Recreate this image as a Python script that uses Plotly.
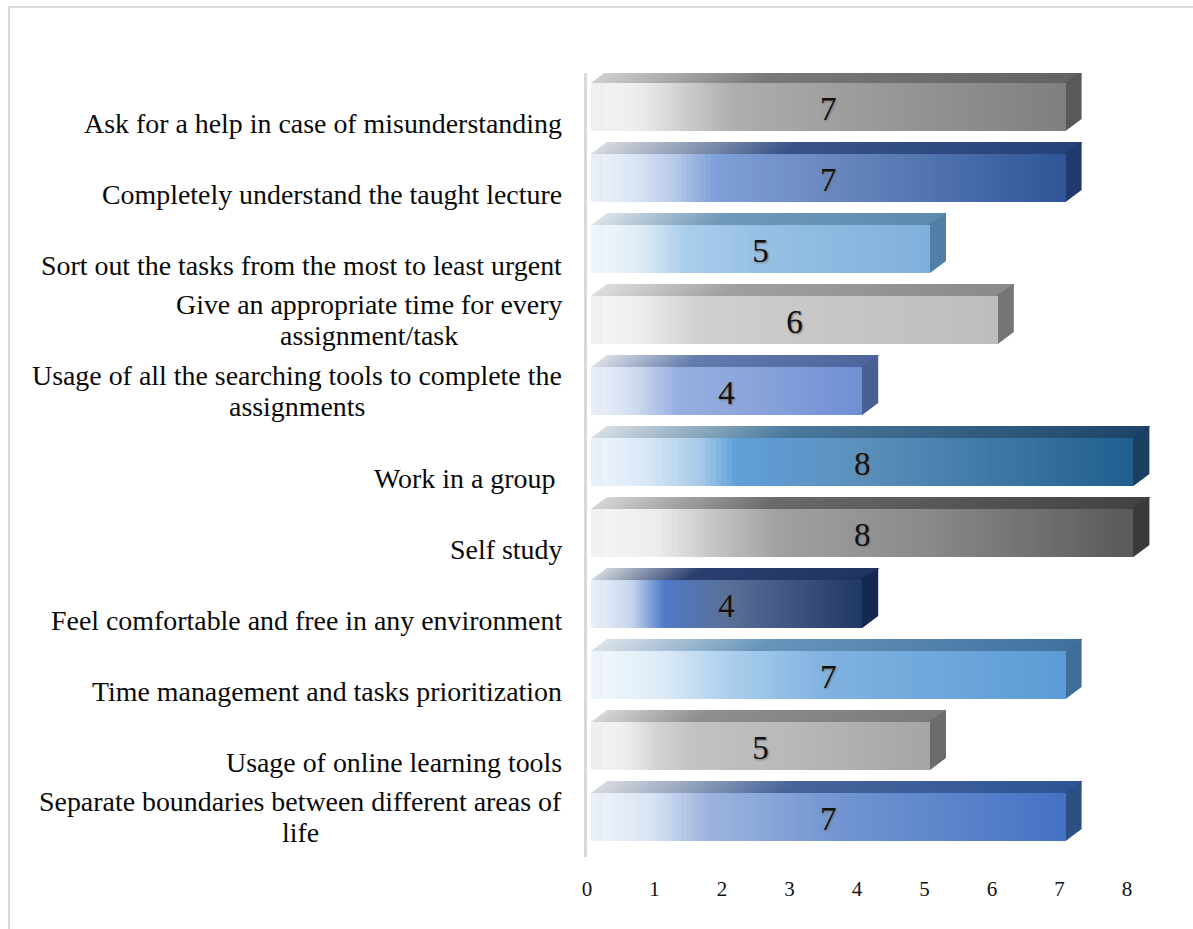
import plotly.graph_objects as go

categories = [
    "Ask for a help in case of misunderstanding",
    "Completely understand the taught lecture",
    "Sort out the tasks from the most to least urgent",
    "Give an appropriate time for every<br>assignment/task",
    "Usage of all the searching tools to complete the<br>assignments",
    "Work in a group\u00a0",
    "Self study",
    "Feel comfortable and free in any environment",
    "Time management and tasks prioritization",
    "Usage of online learning tools",
    "Separate boundaries between different areas of<br>life",
]
values = [7, 7, 5, 6, 4, 8, 8, 4, 7, 5, 7]
tick_values = [0, 1, 2, 3, 4, 5, 6, 7, 8]

# colour stops along each bar: (fraction, colour)
front_stops = [
    [(0, "#f4f4f4"), (.1, "#ededed"), (.2, "#cccccc"), (.3, "#aeaeae"), (.5, "#a0a0a0"), (1, "#7f7f7f")],
    [(0, "#f0f4fb"), (.1, "#d8e3f3"), (.18, "#b4c8e9"), (.26, "#7f9fd8"), (.5, "#6a89c0"), (1, "#2f5597")],
    [(0, "#f4f9fd"), (.15, "#dcebf7"), (.28, "#a9cdec"), (.5, "#97c0e4"), (1, "#7fb0dc")],
    [(0, "#f6f6f6"), (.12, "#eeeeee"), (.26, "#d0d0d0"), (.6, "#c6c6c6"), (1, "#bdbdbd")],
    [(0, "#f0f4fb"), (.15, "#d3def2"), (.32, "#97aee0"), (.6, "#8aa4da"), (1, "#6f8fd6")],
    [(0, "#f0f6fb"), (.1, "#d9e8f6"), (.2, "#a8cbe9"), (.27, "#5f9fd8"), (.5, "#5c8fbb"), (1, "#1f5f8f")],
    [(0, "#f5f5f5"), (.12, "#ededed"), (.24, "#c0c0c0"), (.35, "#a0a0a0"), (.6, "#8c8c8c"), (1, "#595959")],
    [(0, "#f0f4fb"), (.15, "#c6d5ee"), (.27, "#4f79c8"), (.5, "#5a7099"), (1, "#203864")],
    [(0, "#f4f8fd"), (.15, "#dcebf7"), (.3, "#a9cdec"), (.5, "#7fb2e0"), (1, "#5b9bd5")],
    [(0, "#f4f4f4"), (.1, "#eeeeee"), (.2, "#d2d2d2"), (.3, "#c2c2c2"), (.6, "#b8b8b8"), (1, "#a5a5a5")],
    [(0, "#f0f4fb"), (.13, "#d8e3f3"), (.24, "#9fb5e0"), (.5, "#7497d2"), (1, "#4472c4")],
]
top_stops = [
    [(0, "#cfcfcf"), (.35, "#797979"), (1, "#636363")],
    [(0, "#d6d9de"), (.4, "#3a5488"), (1, "#26427a")],
    [(0, "#dbe2e8"), (.35, "#7099ba"), (1, "#5b8bb0")],
    [(0, "#dddddd"), (.32, "#a0a0a0"), (1, "#8a8a8a")],
    [(0, "#d9dde3"), (.35, "#647cae"), (1, "#4c669c")],
    [(0, "#d5dde3"), (.35, "#4a7a9e"), (1, "#1d4468")],
    [(0, "#d4d4d4"), (.32, "#6a6a6a"), (1, "#424242")],
    [(0, "#d0d5dc"), (.35, "#2b4070"), (1, "#1e3461")],
    [(0, "#dbe2e8"), (.35, "#6794bb"), (1, "#3f729f")],
    [(0, "#d6d6d6"), (.3, "#8f8f8f"), (1, "#7a7a7a")],
    [(0, "#d6d9de"), (.4, "#476499"), (1, "#2f5597")],
]
side_colors = ["#595959", "#203a70", "#4f7fa6", "#757575", "#4a5f94", "#1a3f60",
               "#3a3a3a", "#142850", "#3d6f9a", "#6c6c6c", "#2e4f84"]
# horizontal centre (px) of wrapped second lines
second_line_centre = {3: 369, 4: 297, 10: 300}


def blend(stops, t):
    for (a, ca), (b, cb) in zip(stops, stops[1:]):
        if t <= b:
            f = (t - a) / (b - a)
            pa = [int(ca[i:i + 2], 16) for i in (1, 3, 5)]
            pb = [int(cb[i:i + 2], 16) for i in (1, 3, 5)]
            return "rgb(%d,%d,%d)" % tuple(round(p + (q - p) * f) for p, q in zip(pa, pb))
    return stops[-1][1]


# pixel layout of the plot area
W, H = 1193, 929
L, T, PW, PH = 587, 73, 584, 784
UNIT = 67.8
TICK_UNIT = 67.5
ROW = 71.0
DX, DY = 16 / UNIT, 12 / ROW
FRONT = 48 / ROW
BAR_ZERO = 4 / UNIT
N = 100
N_TOP = 80

fig = go.Figure()
n_cat = len(categories)

# carries the visible tick axis
fig.add_trace(go.Scatter(x=tick_values, y=[0] * len(tick_values), mode="markers",
                         marker=dict(opacity=0, size=1), xaxis="x", yaxis="y",
                         hoverinfo="skip", showlegend=False))

for s in range(N):
    fig.add_trace(go.Bar(
        y=list(range(n_cat)),
        x=[v / N + (0.015 if s < N - 1 else 0) for v in values],
        base=[v * s / N for v in values],
        orientation="h", width=FRONT, xaxis="x2", yaxis="y",
        marker=dict(color=[blend(st, (s + .5) / N) for st in front_stops], line_width=0),
        hoverinfo="skip", showlegend=False,
    ))

fig.add_trace(go.Scatter(
    x=[v / 2 for v in values], y=[i + 4.5 / ROW for i in range(n_cat)], text=[str(v) for v in values],
    mode="text", xaxis="x2", yaxis="y", showlegend=False, hoverinfo="skip",
    textfont=dict(family="Liberation Serif", size=33, color="#111111", shadow="1px 1px 2px #777"),
))

shapes = []
for i, v in enumerate(values):
    y0 = i - FRONT / 2
    y1 = i + FRONT / 2
    for s in range(N_TOP):
        x0 = v * s / N_TOP
        shapes.append(dict(
            type="path", xref="x2", yref="y", layer="below", line_width=0,
            fillcolor=blend(top_stops[i], (s + .5) / N_TOP),
            path=f"M{x0},{y0} L{x0 + DX},{y0 - DY} L{v + DX},{y0 - DY} L{v},{y0} Z",
        ))
    xs = v - 0.03
    shapes.append(dict(
        type="path", xref="x2", yref="y", layer="below", line_width=0,
        fillcolor=side_colors[i],
        path=f"M{xs},{y0} L{v + DX},{y0 - DY} L{v + DX},{y1 - DY} L{v},{y1} L{xs},{y1} Z",
    ))
    # slightly darker strip at the start of each front face
    shapes.append(dict(
        type="rect", xref="x2", yref="y", layer="above", line_width=0,
        fillcolor="rgba(110,130,170,0.035)", x0=0, x1=12 / UNIT, y0=y0, y1=y1,
    ))


def px(x): return (x - L) / PW
def py(y): return 1 - (y - T) / PH


# outer frame
shapes.append(dict(type="line", xref="paper", yref="paper", x0=px(9), x1=px(1193), y0=py(7), y1=py(7),
                   line=dict(color="#d9d9d9", width=2)))
shapes.append(dict(type="line", xref="paper", yref="paper", x0=px(9), x1=px(9), y0=py(6), y1=py(929),
                   line=dict(color="#d9d9d9", width=2)))

annotations = []
label_font = dict(family="Liberation Serif", size=27.9, color="#0a0a0a")
for i, c in enumerate(categories):
    lines = c.split("<br>")
    if len(lines) == 1:
        annotations.append(dict(text=c, xref="paper", yref="y", x=px(563.5), y=i, yshift=-16,
                                xanchor="right", yanchor="middle", showarrow=False, font=label_font))
    else:
        annotations.append(dict(text=lines[0], xref="paper", yref="y", x=px(563.5), y=i, yshift=16,
                                xanchor="right", yanchor="middle", showarrow=False, font=label_font))
        annotations.append(dict(text=lines[1], xref="paper", yref="y", x=px(second_line_centre[i]), y=i,
                                yshift=-15, xanchor="center", yanchor="middle", showarrow=False,
                                font=label_font))

fig.update_layout(
    width=W, height=H, autosize=False,
    margin=dict(l=L, r=W - L - PW, t=T, b=H - T - PH, pad=0),
    paper_bgcolor="white", plot_bgcolor="white",
    barmode="overlay", bargap=0,
    shapes=shapes, annotations=annotations,
    xaxis=dict(range=[-0.001, PW / TICK_UNIT], tickvals=tick_values, showgrid=False,
               zeroline=False, ticks="outside", ticklen=13, tickcolor="rgba(0,0,0,0)", showline=False,
               tickfont=dict(family="Liberation Serif", size=21, color="#111111")),
    xaxis2=dict(range=[-BAR_ZERO, -BAR_ZERO + PW / UNIT], overlaying="x", visible=False, showgrid=False,
                zeroline=False),
    yaxis=dict(range=[(T + PH - 107) / ROW, (T - 107) / ROW], showticklabels=False, ticks="",
               showgrid=False, zeroline=False, showline=True, linecolor="#d9d9d9", linewidth=3),
)

fig.write_html("out.html", config={"displayModeBar": False},
               post_script="document.body.style.margin='0';")
